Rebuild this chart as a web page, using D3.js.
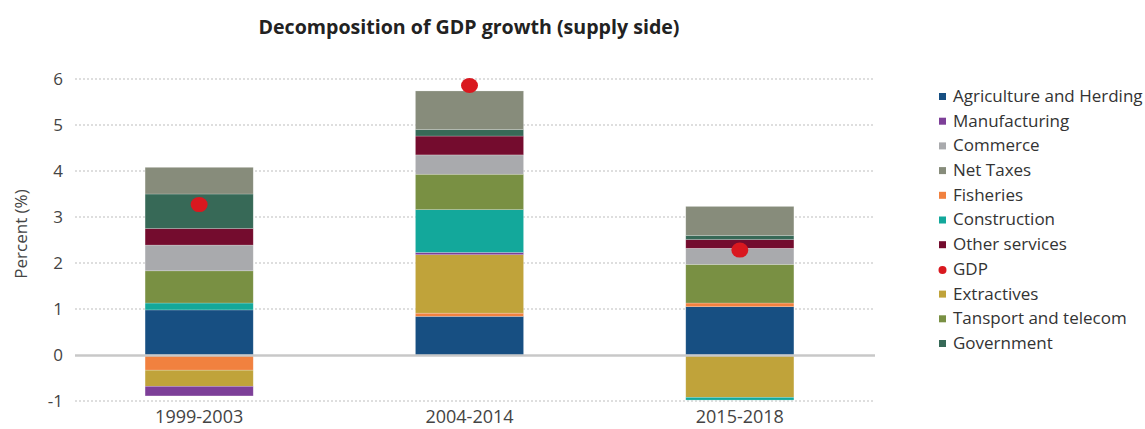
<!DOCTYPE html>
<html>
<head>
<meta charset="utf-8">
<script src="https://cdn.jsdelivr.net/npm/d3@7"></script>
<style>
  body { margin: 0; background: #fff; }
  text { font-family: "Open Sans", Lato, sans-serif; }
</style>
</head>
<body>
<svg id="chart" width="1145" height="429"></svg>
<script>
const periods = ['1999-2003', '2004-2014', '2015-2018']

// stacking order, bottom to top
const sectors = ['Agriculture and Herding', 'Fisheries', 'Extractives', 'Manufacturing', 'Construction',
	'Tansport and telecom', 'Commerce', 'Other services', 'Government', 'Net Taxes']

const agriculture = [0.98, 0.84, 1.05]
const fisheries = [-0.33, 0.07, 0.08]
const extractives = [-0.35, 1.27, -0.92]
const manufacturing = [-0.21, 0.05, 0]
const construction = [0.15, 0.93, -0.06]
const transport = [0.70, 0.77, 0.84]
const commerce = [0.56, 0.42, 0.35]
const otherServices = [0.36, 0.41, 0.19]
const government = [0.75, 0.14, 0.09]
const netTaxes = [0.58, 0.84, 0.63]
const gdp = [3.27, 5.86, 2.28]

const yTicks = [-1, 0, 1, 2, 3, 4, 5, 6]

const legendOrder = ['Agriculture and Herding', 'Manufacturing', 'Commerce', 'Net Taxes', 'Fisheries',
	'Construction', 'Other services', 'GDP', 'Extractives', 'Tansport and telecom', 'Government']

const colors = {
	'Agriculture and Herding': '#174f82',
	'Manufacturing': '#7d3f98',
	'Commerce': '#a9aaad',
	'Net Taxes': '#878c7b',
	'Fisheries': '#f1813f',
	'Construction': '#13a89b',
	'Other services': '#740c2e',
	'GDP': '#d9181f',
	'Extractives': '#c0a33a',
	'Tansport and telecom': '#799043',
	'Government': '#376957'
}

const seriesValues = [agriculture, fisheries, extractives, manufacturing, construction,
	transport, commerce, otherServices, government, netTaxes]

const rows = periods.map((p, i) => {
	const row = { period: p }
	sectors.forEach((s, j) => { row[s] = seriesValues[j][i] })
	return row
})

const svg = d3.select('#chart')
const plot = { left: 75, right: 875 }

const x = d3.scaleBand().domain(periods).range([64, 875]).paddingInner(0.6).paddingOuter(0.3)
const y = d3.scaleLinear().domain([-1, 6]).range([401, 79])

// gridlines
svg.append('g').selectAll('line').data(yTicks.filter(d => d !== 0))
	.enter().append('line')
	.attr('x1', plot.left).attr('x2', plot.right)
	.attr('y1', d => y(d)).attr('y2', d => y(d))
	.attr('stroke', '#bdbdbd').attr('stroke-width', 1).attr('stroke-dasharray', '2,2')

// y tick labels
const yAxis = svg.append('g').attr('transform', `translate(${plot.left}, 0)`)
	.call(d3.axisLeft(y).tickValues(yTicks).tickSize(0).tickPadding(12).tickFormat(d => String(d)))
yAxis.select('.domain').remove()
yAxis.selectAll('text').attr('font-size', 17).attr('fill', '#444')
	.style('font-family', '"Open Sans", sans-serif')

// stacked bars
const stack = d3.stack().keys(sectors).offset(d3.stackOffsetDiverging)
const layers = stack(rows)

svg.append('g').selectAll('g').data(layers)
	.enter().append('g')
	.attr('fill', d => colors[d.key])
	.selectAll('rect').data(d => d)
	.enter().append('rect')
	.attr('x', d => x(d.data.period))
	.attr('width', x.bandwidth())
	.attr('y', d => y(Math.max(d[0], d[1])))
	.attr('height', d => Math.abs(y(d[0]) - y(d[1])))
	.attr('stroke', '#fff').attr('stroke-opacity', 0.35).attr('stroke-width', 0.6)

// zero line
svg.append('line')
	.attr('x1', plot.left).attr('x2', plot.right)
	.attr('y1', y(0) + 0.5).attr('y2', y(0) + 0.5)
	.attr('stroke', '#c8c8c8').attr('stroke-width', 2.6)

// GDP dots
svg.append('g').selectAll('ellipse').data(gdp)
	.enter().append('ellipse')
	.attr('cx', (d, i) => x(periods[i]) + x.bandwidth() / 2)
	.attr('cy', d => y(d))
	.attr('rx', 8.5).attr('ry', 7.5)
	.attr('fill', colors.GDP)

// x labels
const xAxis = svg.append('g').attr('transform', `translate(0, ${y(-1)})`)
	.call(d3.axisBottom(x).tickSize(0).tickPadding(9))
xAxis.select('.domain').remove()
xAxis.selectAll('text').attr('font-size', 18).attr('fill', '#444')
	.style('font-family', '"Open Sans", sans-serif')

// y label
svg.append('text')
	.attr('transform', 'translate(27, 234) rotate(-90)')
	.attr('text-anchor', 'middle')
	.attr('font-size', 17).attr('fill', '#444')
	.text('Percent (%)')

// title
svg.append('text')
	.attr('x', 469).attr('y', 34)
	.attr('text-anchor', 'middle')
	.attr('font-size', 20).attr('font-weight', 'bold').attr('fill', '#222')
	.attr('textLength', 421).attr('lengthAdjust', 'spacingAndGlyphs')
	.text('Decomposition of GDP growth (supply side)')

// legend
const legend = svg.append('g').selectAll('g').data(legendOrder)
	.enter().append('g')
	.attr('transform', (d, i) => `translate(939, ${96 + i * 24.7})`)

legend.filter(d => d !== 'GDP').append('rect')
	.attr('x', 0).attr('y', -3).attr('width', 7).attr('height', 7)
	.attr('fill', d => colors[d])
legend.filter(d => d === 'GDP').append('circle')
	.attr('cx', 3.5).attr('cy', 1).attr('r', 4)
	.attr('fill', colors.GDP)
legend.append('text')
	.attr('x', 14).attr('y', 0).attr('dy', '0.35em')
	.attr('font-size', 17).attr('fill', '#333')
	.text(d => d)
</script>
</body>
</html>
